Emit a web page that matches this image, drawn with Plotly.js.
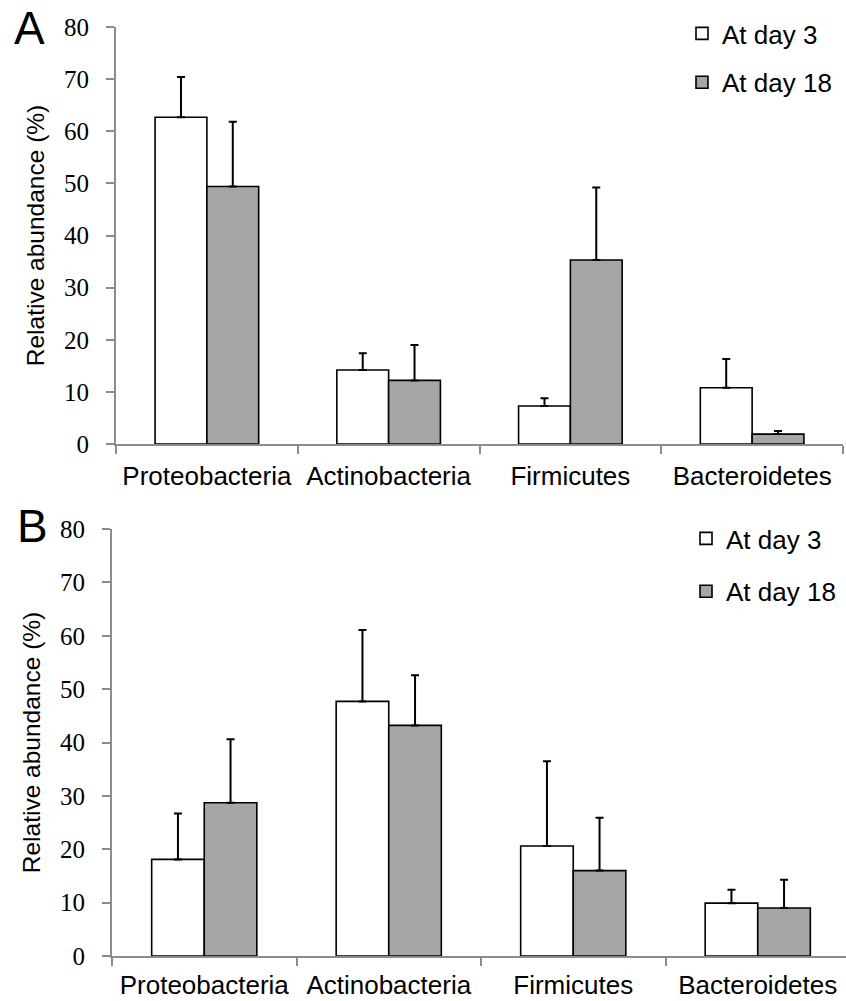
<!DOCTYPE html>
<html>
<head>
<meta charset="utf-8">
<script src="https://cdn.plot.ly/plotly-3.0.1.min.js"></script>
<style>html,body{margin:0;padding:0;background:#fff;}#chart{width:846px;height:1001px;}</style>
</head>
<body>
<div id="chart"></div>
<script>
// Data
var categories = ["Proteobacteria", "Actinobacteria", "Firmicutes", "Bacteroidetes"];
var seriesNames = ["At day 3", "At day 18"];
// Panel A
var aDay3 = [62.7, 14.2, 7.3, 10.8];
var aDay3Err = [7.7, 3.2, 1.5, 5.5];
var aDay18 = [49.4, 12.2, 35.3, 1.9];
var aDay18Err = [12.4, 6.8, 13.9, 0.6];
// Panel B
var bDay3 = [18.1, 47.7, 20.6, 9.9];
var bDay3Err = [8.6, 13.4, 15.9, 2.5];
var bDay18 = [28.7, 43.2, 16.0, 9.0];
var bDay18Err = [11.9, 9.4, 9.9, 5.3];
var yTicks = [0, 10, 20, 30, 40, 50, 60, 70, 80];

var W = 846, H = 1001;
function px(x) { return x / W; }
function py(y) { return 1 - y / H; }

var fillDay3 = "#ffffff", fillDay18 = "#a6a6a6";
var axisGrey = "#8c8c8c";

function barTrace(name, vals, errs, fill, xa, ya, leg, show) {
  return {
    type: "bar", name: name, x: categories, y: vals,
    xaxis: xa, yaxis: ya, legend: leg, showlegend: show, legendgroup: leg + name,
    marker: {color: fill, line: {color: "#000", width: 1.6}},
    error_y: {type: "data", symmetric: false, array: errs, arrayminus: errs.map(function(){return 0;}),
              color: "#000", thickness: 2, width: 4},
    hoverinfo: "x+y"
  };
}

var traces = [
  barTrace(seriesNames[0], aDay3, aDay3Err, fillDay3, "x", "y", "legend", true),
  barTrace(seriesNames[1], aDay18, aDay18Err, fillDay18, "x", "y", "legend", true),
  barTrace(seriesNames[0], bDay3, bDay3Err, fillDay3, "x2", "y2", "legend2", true),
  barTrace(seriesNames[1], bDay18, bDay18Err, fillDay18, "x2", "y2", "legend2", true)
];

var sansFont = "Liberation Sans, Arial, sans-serif";
var serifFont = "Liberation Serif, Times New Roman, serif";

function xAxis(domain, range, anchor, standoff) {
  return {
    domain: domain, anchor: anchor, type: "category", range: range,
    showline: true, linecolor: axisGrey, linewidth: 2,
    ticks: "outside", tickson: "boundaries", ticklen: 8, tickcolor: axisGrey, tickwidth: 2,
    showgrid: false, zeroline: false, ticklabelstandoff: standoff,
    tickfont: {family: sansFont, size: 26, color: "#000"}
  };
}
function yAxis(domain, anchor) {
  return {
    domain: domain, anchor: anchor, range: [0, 80],
    tickmode: "array", tickvals: yTicks, ticktext: yTicks.map(String),
    showline: true, linecolor: axisGrey, linewidth: 2,
    ticks: "outside", ticklen: 8, tickcolor: axisGrey, tickwidth: 2,
    showgrid: false, zeroline: false, ticklabelstandoff: 12,
    tickfont: {family: serifFont, size: 25, color: "#000"},
    title: {text: "Relative abundance (%)", font: {family: sansFont, size: 24.5, color: "#000"}, standoff: 12}
  };
}

var layout = {
  width: W, height: H,
  margin: {l: 0, r: 0, t: 0, b: 0},
  paper_bgcolor: "#fff", plot_bgcolor: "#fff",
  barmode: "group", bargap: 0.43, bargroupgap: 0,
  xaxis: xAxis([px(116), px(843)], [-0.5, 3.5], "y", 8),
  yaxis: yAxis([py(444), py(27)], "x"),
  xaxis2: xAxis([px(112), 1], [-0.5, -0.5 + (846 - 112) / 184.5], "y2", 5),
  yaxis2: yAxis([py(956), py(529)], "x2"),
  legend: {x: px(682), y: py(10), xanchor: "left", yanchor: "top", bgcolor: "rgba(0,0,0,0)",
           font: {family: sansFont, size: 26, color: "#000"}, tracegroupgap: 12, traceorder: "grouped"},
  legend2: {x: px(686), y: py(515), xanchor: "left", yanchor: "top", bgcolor: "rgba(0,0,0,0)",
           font: {family: sansFont, size: 26, color: "#000"}, tracegroupgap: 16, traceorder: "grouped"},
  annotations: [
    {text: "A", xref: "paper", yref: "paper", x: px(12), y: py(0), xanchor: "left", yanchor: "top",
     showarrow: false, font: {family: sansFont, size: 46, color: "#000"}},
    {text: "B", xref: "paper", yref: "paper", x: px(15), y: py(498), xanchor: "left", yanchor: "top",
     showarrow: false, font: {family: sansFont, size: 46, color: "#000"}}
  ]
};

Plotly.newPlot("chart", traces, layout, {displayModeBar: false, staticPlot: true});
</script>
</body>
</html>
